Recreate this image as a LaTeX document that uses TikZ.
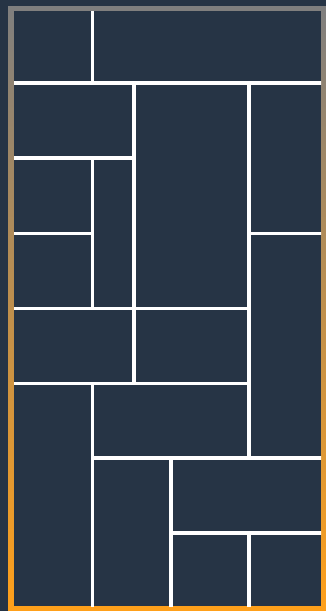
\documentclass[tikz,border=0pt]{standalone}
\usetikzlibrary{calc}
\definecolor{navy}{HTML}{263445}
\definecolor{framegray}{HTML}{7F7F7F}
\definecolor{frameorange}{HTML}{FFA01A}
\tikzset{wall/.style={draw=white,line width=3.6pt,line cap=rect}}
\begin{document}
\begin{tikzpicture}[x=1pt,y=-1pt]
\useasboundingbox (0,0) rectangle (326,611);
\fill[navy] (0,0) rectangle (326,611);
\shade[top color=framegray,bottom color=frameorange] (8,6) rectangle (326,611);
\fill[navy] (14,11) rectangle (321,606);
\begin{scope}
\clip (14,11) rectangle (321,606);
\draw[wall] (92.5,11) -- (92.5,83);
\draw[wall] (14,83) -- (321,83);
\draw[wall] (134,83) -- (134,383.5);
\draw[wall] (249,83) -- (249,458);
\draw[wall] (14,158) -- (134,158);
\draw[wall] (92.5,158) -- (92.5,308.5);
\draw[wall] (14,233.5) -- (92.5,233.5);
\draw[wall] (249,233.5) -- (321,233.5);
\draw[wall] (14,308.5) -- (249,308.5);
\draw[wall] (14,383.5) -- (249,383.5);
\draw[wall] (92.5,383.5) -- (92.5,606);
\draw[wall] (92.5,458) -- (321,458);
\draw[wall] (171,458) -- (171,606);
\draw[wall] (171,533) -- (321,533);
\draw[wall] (249,533) -- (249,606);
\end{scope}
\end{tikzpicture}
\end{document}
